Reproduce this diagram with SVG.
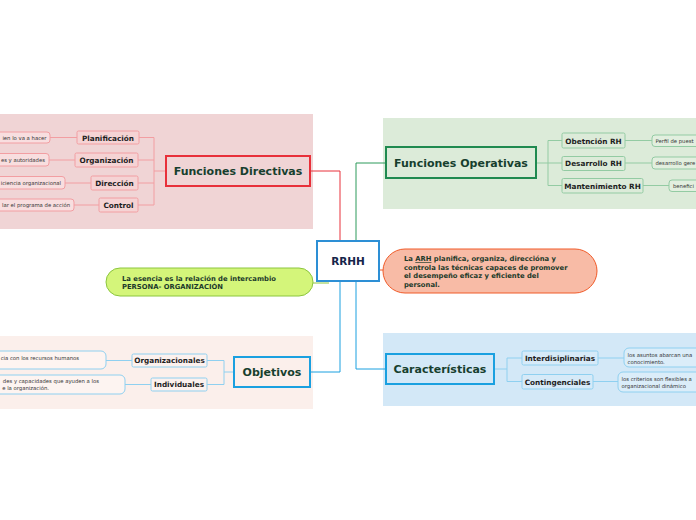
<svg xmlns="http://www.w3.org/2000/svg" width="696" height="520" viewBox="0 0 696 520">
<style>
text{font-family:"DejaVu Sans","Verdana",sans-serif;}
.main{font-size:11px;font-weight:bold;fill:#173f2e;}
.sub{font-size:7.3px;font-weight:bold;fill:#1e1e1e;}
.leaf{font-size:5.3px;fill:#333;}
.pill{font-size:6.8px;font-weight:bold;fill:#1c3a2a;}
.pk{fill:#f5d3d4;stroke:#f29ea2;stroke-width:1;}
.pkl{fill:#f8dedf;stroke:#f29ea2;stroke-width:1;}
.gr{fill:#dcebd9;stroke:#93cba3;stroke-width:1;}
.grl{fill:#e2efdf;stroke:#93cba3;stroke-width:1;}
.bl{fill:#fcf1ee;stroke:#8fd0f0;stroke-width:1;}
.bll{fill:#fdf4f1;stroke:#8fd0f0;stroke-width:1;}
.cb{fill:#d6eaf8;stroke:#8fd0f0;stroke-width:1;}
.cbl{fill:#dbedf9;stroke:#8fd0f0;stroke-width:1;}
.c{fill:none;stroke-width:1;}
</style>
<rect width="696" height="520" fill="#ffffff"/>
<g id="regions">
<rect x="0" y="114" width="313" height="115" fill="#f0d4d5"/>
<rect x="383" y="118" width="313" height="91" fill="#dcebd9"/>
<rect x="0" y="336" width="313" height="73" fill="#fbefeb"/>
<rect x="383" y="333" width="313" height="73" fill="#d3e8f7"/>
</g>
<g id="connectors">
<polyline class="c" stroke="#e8303a" points="310,171 340,171 340,241"/>
<polyline class="c" stroke="#2c9a5a" points="356,241 356,163 386,163"/>
<polyline class="c" stroke="#1aa0e0" points="340,281 340,372 310,372"/>
<polyline class="c" stroke="#1aa0e0" points="356,281 356,369 386,369"/>
<line class="c" stroke="#f05a28" x1="379" y1="270" x2="384" y2="270"/>
<line class="c" stroke="#8cc63f" stroke-width="1.5" x1="313" y1="283" x2="329" y2="283"/>
<g stroke="#f29ea2" fill="none">
<polyline points="166,171 154,171"/>
<polyline points="139,137.5 154,137.5 154,205 138,205"/>
<line x1="138" y1="160" x2="154" y2="160"/>
<line x1="138" y1="183" x2="154" y2="183"/>
<line x1="50" y1="137.5" x2="77" y2="137.5"/>
<line x1="49" y1="160" x2="75" y2="160"/>
<line x1="65" y1="183" x2="91" y2="183"/>
<line x1="74" y1="205" x2="99" y2="205"/>
</g>
<g stroke="#93cba3" fill="none">
<line x1="536" y1="163" x2="548" y2="163"/>
<polyline points="562,140.5 548,140.5 548,185.5 562,185.5"/>
<line x1="548" y1="163" x2="562" y2="163"/>
<line x1="625" y1="140.5" x2="652" y2="140.5"/>
<line x1="625" y1="163" x2="652" y2="163"/>
<line x1="643" y1="185.5" x2="669" y2="185.5"/>
</g>
<g stroke="#8fd0f0" fill="none">
<line x1="234" y1="372" x2="224" y2="372"/>
<polyline points="207,360.5 224,360.5 224,384.5 207,384.5"/>
<line x1="106" y1="360.5" x2="132" y2="360.5"/>
<line x1="125" y1="384.5" x2="151" y2="384.5"/>
</g>
<g stroke="#8fd0f0" fill="none">
<line x1="494" y1="369" x2="507" y2="369"/>
<polyline points="522,358 507,358 507,381.5 522,381.5"/>
<line x1="598" y1="358" x2="624" y2="358"/>
<line x1="593" y1="381.5" x2="618" y2="381.5"/>
</g>
</g>
<g id="rrhh">
<rect x="317" y="241" width="62" height="40" fill="#ffffff" stroke="#2d8fd5" stroke-width="2"/>
<text x="348" y="265" text-anchor="middle" style="font-size:10.5px;font-weight:bold;fill:#16254a">RRHH</text>
</g>
<g id="funciones-directivas">
<rect x="166" y="156" width="144" height="30" fill="#f0d4d5" stroke="#e8303a" stroke-width="2"/>
<text class="main" x="238" y="175" text-anchor="middle">Funciones Directivas</text>
</g>
<g id="planificacion"><rect class="pk" x="77" y="131" width="62" height="13" rx="1.5"/><text class="sub" x="108" y="140.5" text-anchor="middle">Planificación</text></g>
<g id="organizacion"><rect class="pk" x="75" y="153" width="63" height="14" rx="1.5"/><text class="sub" x="106.5" y="163" text-anchor="middle">Organización</text></g>
<g id="direccion"><rect class="pk" x="91" y="176" width="47" height="14" rx="1.5"/><text class="sub" x="114.5" y="186" text-anchor="middle">Dirección</text></g>
<g id="control"><rect class="pk" x="99" y="198" width="39" height="14" rx="1.5"/><text class="sub" x="118.5" y="208" text-anchor="middle">Control</text></g>
<g id="leaf-plan"><rect class="pkl" x="-60" y="132" width="110" height="11" rx="3"/><text class="leaf" x="46.5" y="139.7" text-anchor="end">ien lo va a hacer</text></g>
<g id="leaf-org"><rect class="pkl" x="-60" y="153.5" width="109" height="12.5" rx="3"/><text class="leaf" x="45" y="161.8" text-anchor="end">es y autoridades</text></g>
<g id="leaf-dir"><rect class="pkl" x="-60" y="176.5" width="125" height="12.5" rx="3"/><text class="leaf" x="61" y="184.8" text-anchor="end">iciencia organizacional</text></g>
<g id="leaf-ctrl"><rect class="pkl" x="-60" y="199" width="134" height="12" rx="3"/><text class="leaf" x="70" y="207.2" text-anchor="end">lar el programa de acción</text></g>

<g id="funciones-operativas">
<rect x="386" y="147" width="150" height="31" fill="#dcebd9" stroke="#1f8a50" stroke-width="2"/>
<text class="main" x="461" y="167" text-anchor="middle">Funciones Operativas</text>
</g>
<g id="obtencion"><rect class="gr" x="562" y="133" width="63" height="15" rx="1.5"/><text class="sub" x="593.5" y="143.5" text-anchor="middle">Obetnción RH</text></g>
<g id="desarrollo"><rect class="gr" x="562" y="156.5" width="63" height="14" rx="1.5"/><text class="sub" x="593.5" y="166.3" text-anchor="middle">Desarrollo RH</text></g>
<g id="mantenimiento"><rect class="gr" x="562" y="178.5" width="81" height="14.5" rx="1.5"/><text class="sub" x="602.5" y="188.5" text-anchor="middle">Mantenimiento RH</text></g>
<g id="leaf-perfil"><rect class="grl" x="652" y="135" width="60" height="11.5" rx="3"/><text class="leaf" x="655.5" y="142.7">Perfil de puest</text></g>
<g id="leaf-desarrollo"><rect class="grl" x="652" y="157" width="80" height="12" rx="3"/><text class="leaf" x="655.5" y="165.2">desarrollo gere</text></g>
<g id="leaf-beneficios"><rect class="grl" x="669" y="180" width="60" height="11.5" rx="3"/><text class="leaf" x="673" y="187.7">benefici</text></g>

<g id="arh-pill">
<rect x="383" y="249" width="214" height="44" rx="22" fill="#f8bba6" stroke="#f05a28" stroke-width="1"/>
<text class="pill" x="404" y="261">La <tspan text-decoration="underline">ARH</tspan> planifica, organiza, direccióna y</text>
<text class="pill" x="404" y="269.5">controla  las técnicas capaces de promover</text>
<text class="pill" x="404" y="278">el desempeño eficaz y eficiente del</text>
<text class="pill" x="404" y="286.5">personal.</text>
</g>
<g id="esencia-pill">
<rect x="106" y="268" width="207" height="28" rx="14" fill="#d4f57a" stroke="#8cc63f" stroke-width="1"/>
<text class="pill" x="122" y="280.5">La esencia es la relación de intercambio</text>
<text class="pill" x="122" y="289">PERSONA- ORGANIZACIÓN</text>
</g>

<g id="objetivos">
<rect x="234" y="357" width="76" height="30" fill="#fbefeb" stroke="#1aa0e0" stroke-width="2"/>
<text class="main" x="272" y="376" text-anchor="middle">Objetivos</text>
</g>
<g id="organizacionales"><rect class="bl" x="132" y="354" width="75" height="13" rx="1.5"/><text class="sub" x="169.5" y="363.3" text-anchor="middle">Organizacionales</text></g>
<g id="individuales"><rect class="bl" x="151" y="378" width="56" height="13" rx="1.5"/><text class="sub" x="179" y="387.3" text-anchor="middle">Individuales</text></g>
<g id="leaf-organizacionales"><rect class="bll" x="-60" y="351" width="166" height="18" rx="5"/><text class="leaf" x="79" y="359.7" text-anchor="end">cia con los recursos humanos</text></g>
<g id="leaf-individuales"><rect class="bll" x="-60" y="375" width="185" height="19" rx="5"/><text class="leaf" x="99" y="383" text-anchor="end">des y capacidades que ayuden a los</text><text class="leaf" x="49" y="389.5" text-anchor="end">e la organización.</text></g>

<g id="caracteristicas">
<rect x="386" y="354" width="108" height="30" fill="#d3e8f7" stroke="#1aa0e0" stroke-width="2"/>
<text class="main" x="440" y="373" text-anchor="middle">Características</text>
</g>
<g id="interdisciplinarias"><rect class="cb" x="522" y="351" width="76" height="14" rx="1.5"/><text class="sub" x="560" y="361" text-anchor="middle">Interdisiplinarias</text></g>
<g id="contingenciales"><rect class="cb" x="522" y="374.5" width="71" height="14.5" rx="1.5"/><text class="sub" x="557.5" y="384.5" text-anchor="middle">Contingenciales</text></g>
<g id="leaf-interdisciplinarias"><rect class="cbl" x="624" y="348" width="90" height="19" rx="5"/><text class="leaf" x="627.5" y="357">los asuntos abarcan una</text><text class="leaf" x="627.5" y="364">conocimiento.</text></g>
<g id="leaf-contingenciales"><rect class="cbl" x="618" y="372" width="90" height="20" rx="5"/><text class="leaf" x="621.5" y="381">los criterios son flexibles a</text><text class="leaf" x="621.5" y="388">organizacional dinámico</text></g>
</svg>
